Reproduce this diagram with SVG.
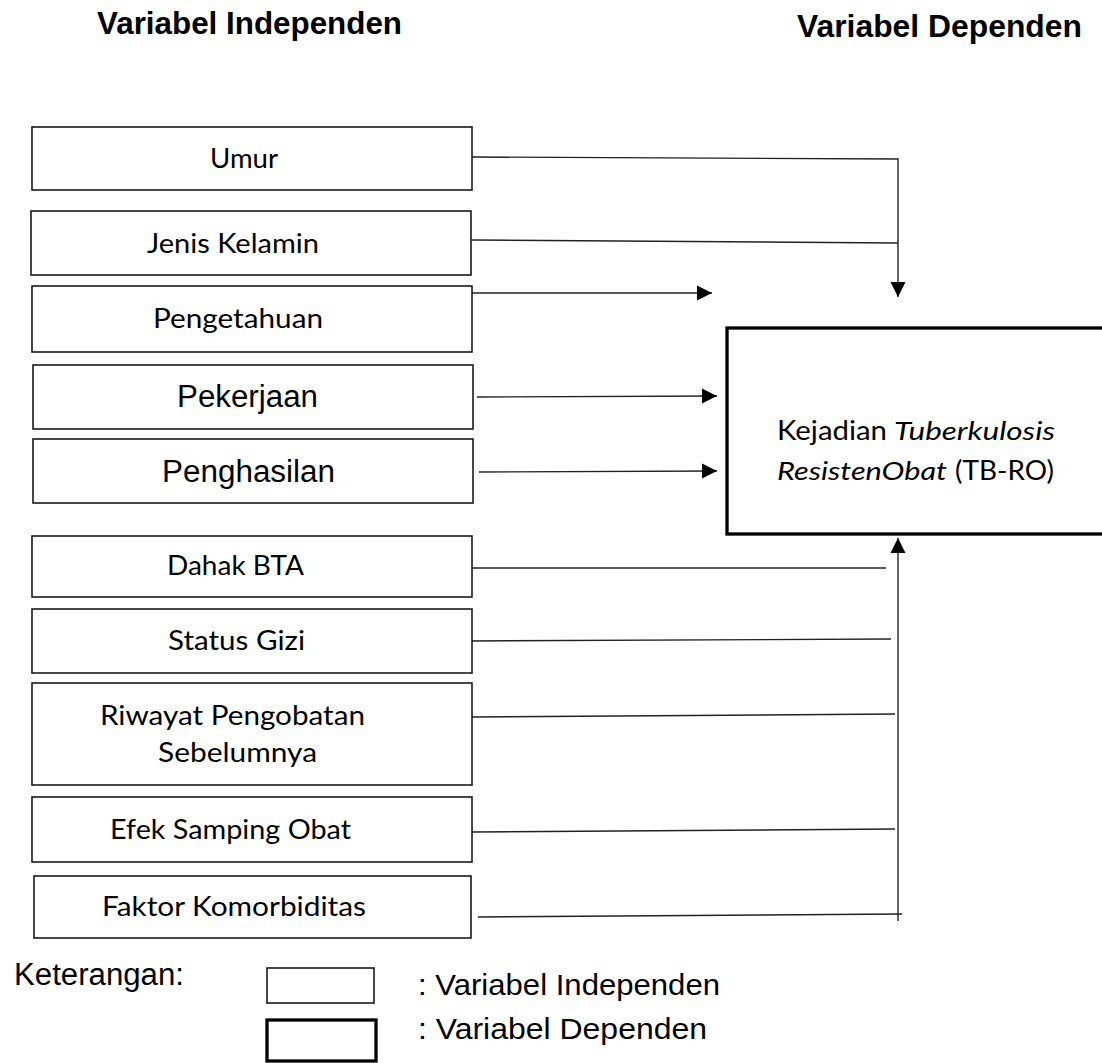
<svg xmlns="http://www.w3.org/2000/svg" width="1102" height="1063" viewBox="0 0 1102 1063">
<style>
.box{fill:#fff;stroke:#1a1a1a;stroke-width:1.6}
.dep{fill:#fff;stroke:#000;stroke-width:3.3}
.ln{fill:none;stroke:#222;stroke-width:1.4}
.cal{font-family:Lato,"Open Sans",sans-serif;font-size:26px;fill:#000}
.ar{font-family:"Liberation Sans",Arial,sans-serif;font-size:31px;fill:#000}
.hd{font-family:"Liberation Sans",Arial,sans-serif;font-size:31.5px;font-weight:bold;fill:#000}
.it{font-style:italic}
</style>
<defs>
<marker id="ah" markerUnits="userSpaceOnUse" markerWidth="16" markerHeight="16" viewBox="0 0 16 16" refX="15" refY="8" orient="auto">
<path d="M0,0.5 L15,8 L0,15.5 Z" fill="#000"/>
</marker>
</defs>
<rect width="1102" height="1063" fill="#fff"/>
<g id="headings">
<text class="hd" x="97" y="34" textLength="305" lengthAdjust="spacingAndGlyphs">Variabel Independen</text>
<text class="hd" x="797" y="37" textLength="285" lengthAdjust="spacingAndGlyphs">Variabel Dependen</text>
</g>
<g id="connectors">
<polyline class="ln" points="472,157 898,159 898,297" marker-end="url(#ah)"/>
<line class="ln" x1="471" y1="240" x2="898" y2="243"/>
<line class="ln" x1="472" y1="293" x2="712" y2="293" marker-end="url(#ah)"/>
<line class="ln" x1="477" y1="397" x2="717" y2="396" marker-end="url(#ah)"/>
<line class="ln" x1="479" y1="472" x2="717" y2="471" marker-end="url(#ah)"/>
<line class="ln" x1="898" y1="921" x2="898" y2="538" marker-end="url(#ah)"/>
<line class="ln" x1="472" y1="568" x2="886" y2="568"/>
<line class="ln" x1="467" y1="641" x2="891" y2="639"/>
<line class="ln" x1="472" y1="717" x2="895" y2="714"/>
<line class="ln" x1="472" y1="832" x2="895" y2="829"/>
<line class="ln" x1="478" y1="917" x2="902" y2="914"/>
</g>
<g id="umur"><rect class="box" x="32" y="127" width="440" height="63"/><text class="cal" x="210" y="168" textLength="68" lengthAdjust="spacingAndGlyphs">Umur</text></g>
<g id="jenis-kelamin"><rect class="box" x="31" y="211" width="440" height="64"/><text class="cal" x="147" y="253" textLength="172" lengthAdjust="spacingAndGlyphs">Jenis Kelamin</text></g>
<g id="pengetahuan"><rect class="box" x="32" y="286" width="440" height="66"/><text class="cal" x="153" y="328" textLength="170" lengthAdjust="spacingAndGlyphs">Pengetahuan</text></g>
<g id="pekerjaan"><rect class="box" x="33" y="365" width="440" height="64"/><text class="ar" x="177" y="407" textLength="141" lengthAdjust="spacingAndGlyphs">Pekerjaan</text></g>
<g id="penghasilan"><rect class="box" x="33" y="439" width="440" height="64"/><text class="ar" x="162" y="482" textLength="173" lengthAdjust="spacingAndGlyphs">Penghasilan</text></g>
<g id="dahak-bta"><rect class="box" x="32" y="536" width="440" height="61"/><text class="cal" x="167" y="575" textLength="137" lengthAdjust="spacingAndGlyphs">Dahak BTA</text></g>
<g id="status-gizi"><rect class="box" x="32" y="609" width="440" height="64"/><text class="cal" x="168" y="650" textLength="137" lengthAdjust="spacingAndGlyphs">Status Gizi</text></g>
<g id="riwayat"><rect class="box" x="32" y="683" width="440" height="102"/><text class="cal" x="100" y="725" textLength="265" lengthAdjust="spacingAndGlyphs">Riwayat Pengobatan</text><text class="cal" x="158" y="762" textLength="159" lengthAdjust="spacingAndGlyphs">Sebelumnya</text></g>
<g id="efek-samping"><rect class="box" x="32" y="797" width="440" height="65"/><text class="cal" x="110" y="839" textLength="241" lengthAdjust="spacingAndGlyphs">Efek Samping Obat</text></g>
<g id="faktor-komorbiditas"><rect class="box" x="34" y="876" width="437" height="62"/><text class="cal" x="102" y="916" textLength="264" lengthAdjust="spacingAndGlyphs">Faktor Komorbiditas</text></g>
<g id="tb-ro"><rect class="dep" x="727" y="328" width="380" height="206"/>
<text class="cal" x="777" y="440" textLength="110" lengthAdjust="spacingAndGlyphs">Kejadian</text>
<text class="cal it" x="894" y="440" textLength="161" lengthAdjust="spacingAndGlyphs">Tuberkulosis</text>
<text class="cal it" x="777" y="480" textLength="170" lengthAdjust="spacingAndGlyphs">ResistenObat</text>
<text class="cal" x="955" y="480" textLength="99" lengthAdjust="spacingAndGlyphs">(TB-RO)</text>
</g>
<g id="legend">
<text class="ar" x="14" y="985" textLength="170" lengthAdjust="spacingAndGlyphs">Keterangan:</text>
<rect class="box" x="267" y="968" width="107" height="35"/>
<rect class="dep" x="267" y="1020" width="109" height="41"/>
<text class="ar" style="font-size:30px" x="418" y="995" textLength="302" lengthAdjust="spacingAndGlyphs">: Variabel Independen</text>
<text class="ar" style="font-size:30px" x="418" y="1039" textLength="289" lengthAdjust="spacingAndGlyphs">: Variabel Dependen</text>
</g>
</svg>
